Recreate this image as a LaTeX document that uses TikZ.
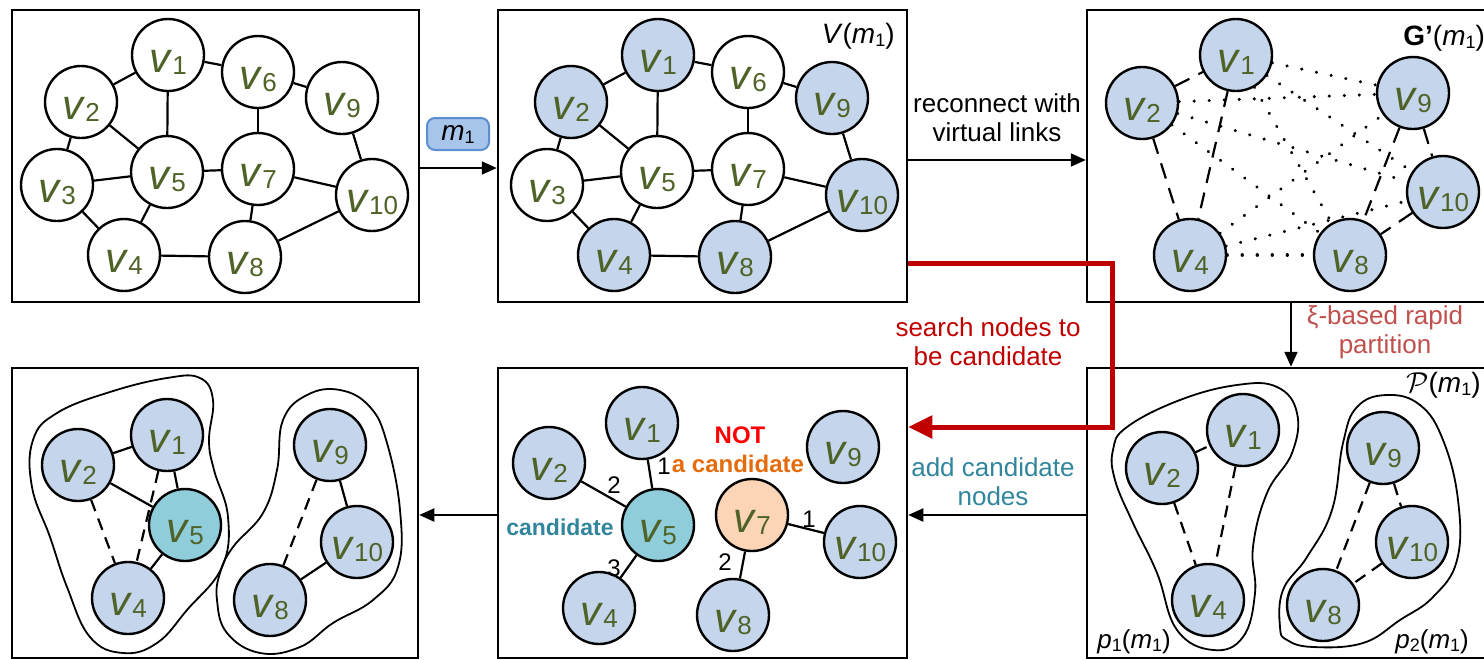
\documentclass[tikz,border=0pt]{standalone}
\usepackage{fontspec}
\setmainfont{Liberation Sans}
\usetikzlibrary{arrows.meta}

\definecolor{vtext}{HTML}{4F6228}
\definecolor{vfill}{HTML}{C5D6EC}
\definecolor{candfill}{HTML}{8ECDD9}
\definecolor{notfill}{HTML}{FBD5B5}
\definecolor{searchred}{HTML}{C00000}
\definecolor{partred}{HTML}{C0504D}
\definecolor{candteal}{HTML}{31859C}
\definecolor{candorange}{HTML}{E46C0A}
\definecolor{mfill}{HTML}{A7C5EB}
\definecolor{mdraw}{HTML}{5B8FD0}

% vertex label v_i and the message index m_1
\newcommand{\vlab}[1]{\textit{v}\raisebox{-1pt}{\fontsize{13}{13}\selectfont #1}}
\newcommand{\mone}{\textit{m}\raisebox{-1.5pt}{\fontsize{9}{9}\selectfont 1}}
\newcommand{\pidx}[1]{\textit{p}\raisebox{-1.5pt}{\fontsize{9}{9}\selectfont #1}}

\tikzset{
  vert/.style={circle, draw=black, line width=1.2pt, minimum size=36pt, inner sep=0pt,
    fill=white, text=vtext, font=\fontsize{21}{21}\selectfont, text height=17pt, text depth=0pt},
  vb/.style={vert, fill=vfill},
  vc/.style={vert, fill=candfill},
  vo/.style={vert, fill=notfill},
  panel/.style={draw=black, line width=1.25pt, inner sep=0pt},
  link/.style={line width=1.1pt},
  dlink/.style={link, dash pattern=on 8pt off 5pt},
  slink/.style={link, dash pattern=on 6pt off 4pt},
  vlink/.style={line width=1.7pt, line cap=round, dash pattern=on 0.01pt off 7.5pt},
  blob/.style={line width=0.9pt},
  arr/.style={line width=1pt, -{Triangle[length=7.5pt,width=6.5pt]}},
  redarr/.style={line width=2.5pt, draw=searchred, -{Triangle[length=12pt,width=11pt]}},
  lbl/.style={font=\fontsize{13}{14.5}\selectfont, align=center, inner sep=0pt},
  numlbl/.style={font=\fontsize{12}{12}\selectfont, inner sep=0pt},
  tag/.style={font=\fontsize{14}{14}\selectfont, inner sep=0pt},
}

\begin{document}
\begin{tikzpicture}[x=0.5pt,y=-0.5pt]
\useasboundingbox (0,0) rectangle (1484,659);

% ---------- panels ----------
\node[panel, minimum width=203.5pt, minimum height=146pt] (P1) at (215.5,156) {};
\node[panel, minimum width=204.5pt, minimum height=146pt] (P2) at (702.5,156) {};
\node[panel, minimum width=206.5pt, minimum height=146pt] (P3) at (1293.5,156) {};
\node[panel, minimum width=203pt, minimum height=145pt] (P4) at (215,513) {};
\node[panel, minimum width=204.5pt, minimum height=145pt] (P5) at (702.5,513) {};
\node[panel, minimum width=206.5pt, minimum height=145pt] (P6) at (1293.5,513) {};

% ---------- panel 1: the original graph ----------
\node[vert] (a1) at (168,55) {\vlab{1}};
\node[vert] (a2) at (81,102) {\vlab{2}};
\node[vert] (a3) at (57,185) {\vlab{3}};
\node[vert] (a4) at (124,255) {\vlab{4}};
\node[vert] (a5) at (167,172) {\vlab{5}};
\node[vert] (a6) at (258,72) {\vlab{6}};
\node[vert] (a7) at (258,169) {\vlab{7}};
\node[vert] (a8) at (245,257) {\vlab{8}};
\node[vert] (a9) at (342,98) {\vlab{9}};
\node[vert] (a10) at (372,195) {\vlab{10}};
\foreach \s/\t in {1/2,1/5,1/6,6/9,6/7,2/5,2/3,3/5,3/4,4/5,5/7,7/10,7/8,9/10,8/10,4/8}
  \draw[link] (a\s) -- (a\t);

% ---------- panel 2: vertices touched by m1 ----------
\node[vb]   (b1) at (658,55) {\vlab{1}};
\node[vb]   (b2) at (571,102) {\vlab{2}};
\node[vert] (b3) at (547,185) {\vlab{3}};
\node[vb]   (b4) at (614,255) {\vlab{4}};
\node[vert] (b5) at (657,172) {\vlab{5}};
\node[vert] (b6) at (748,72) {\vlab{6}};
\node[vert] (b7) at (748,169) {\vlab{7}};
\node[vb]   (b8) at (735,257) {\vlab{8}};
\node[vb]   (b9) at (832,98) {\vlab{9}};
\node[vb]   (b10) at (862,195) {\vlab{10}};
\foreach \s/\t in {1/2,1/5,1/6,6/9,6/7,2/5,2/3,3/5,3/4,4/5,5/7,7/10,7/8,9/10,8/10,4/8}
  \draw[link] (b\s) -- (b\t);
\node[tag, anchor=base east] (vm) at (895,43) {\textit{V}(\mone)};

% ---------- panel 3: virtual graph G'(m1) ----------
\node[vb] (c1) at (1236,55) {\vlab{1}};
\node[vb] (c2) at (1142,103) {\vlab{2}};
\node[vb] (c4) at (1190,255) {\vlab{4}};
\node[vb] (c9) at (1413,93) {\vlab{9}};
\node[vb] (c10) at (1443,192) {\vlab{10}};
\node[vb] (c8) at (1350,255) {\vlab{8}};
\foreach \s in {1,2,4}
  \foreach \t in {9,10,8}
    \draw[vlink] (c\s) -- (c\t);
\foreach \s/\t in {2/1,2/4,1/4,9/8,9/10,10/8}
  \draw[dlink] (c\s) -- (c\t);
\node[tag, anchor=base west] (gm) at (1403,45) {\textbf{G'}(\mone)};

% ---------- panel 6: rapid partition P(m1) ----------
\draw[blob] plot[smooth cycle, tension=0.7] coordinates {(1113,450) (1127,427) (1180,400) (1237,385) (1277,387) (1297,413) (1292,453) (1267,493) (1253,547) (1255,593) (1243,637) (1213,650) (1177,630) (1157,573) (1133,523) (1115,480)};
\draw[blob] plot[smooth cycle, tension=0.7] coordinates {(1280,627) (1283,590) (1307,557) (1332,510) (1343,443) (1357,407) (1387,395) (1420,405) (1443,440) (1458,500) (1457,560) (1433,597) (1400,620) (1363,643) (1313,647) (1287,640)};
\node[vb] (f1) at (1243,430) {\vlab{1}};
\node[vb] (f2) at (1162,468) {\vlab{2}};
\node[vb] (f4) at (1208,600) {\vlab{4}};
\node[vb] (f9) at (1383,448) {\vlab{9}};
\node[vb] (f10) at (1412,542) {\vlab{10}};
\node[vb] (f8) at (1323,605) {\vlab{8}};
\foreach \s/\t in {2/1,2/4,1/4,9/8,9/10,10/8}
  \draw[slink] (f\s) -- (f\t);
\node[tag, anchor=base east] (pm) at (1481,392) {$\mathcal{P}$(\mone)};
\node[numlbl, anchor=base west, font=\fontsize{13}{13}\selectfont] (p1) at (1097,648) {\pidx{1}(\mone)};
\node[numlbl, anchor=base west, font=\fontsize{13}{13}\selectfont] (p2) at (1395,648) {\pidx{2}(\mone)};

% ---------- panel 5: candidate search ----------
\node[vb] (e1) at (642,423) {\vlab{1}};
\node[vb] (e2) at (549,463) {\vlab{2}};
\node[vc] (e5) at (658,525) {\vlab{5}};
\node[vb] (e4) at (599,608) {\vlab{4}};
\node[vo] (e7) at (752,515) {\vlab{7}};
\node[vb] (e9) at (843,447) {\vlab{9}};
\node[vb] (e10) at (860,542) {\vlab{10}};
\node[vb] (e8) at (733,615) {\vlab{8}};
\foreach \s/\t in {1/5,2/5,4/5,7/10,7/8}
  \draw[link] (e\s) -- (e\t);
\node[numlbl] (n15) at (664,466) {1};
\node[numlbl] (n25) at (614,485) {2};
\node[numlbl] (n45) at (614,568) {3};
\node[numlbl] (n710) at (809,519) {1};
\node[numlbl] (n78) at (725,562) {2};
\node[inner sep=0pt, anchor=base, text=red, font=\fontsize{12}{12}\selectfont\bfseries] (nt) at (740,443) {NOT};
\node[inner sep=0pt, anchor=base, text=candorange, font=\fontsize{12}{12}\selectfont\bfseries] (ac) at (738,472) {a candidate};
\node[inner sep=0pt, anchor=base, text=candteal, font=\fontsize{11.5}{12}\selectfont\bfseries] (cd) at (560,535) {candidate};

% ---------- panel 4: final partition ----------
\draw[blob] plot[smooth cycle, tension=0.7] coordinates {(33,440) (57,413) (110,392) (167,378) (200,378) (213,400) (209,440) (214,470) (228,517) (222,567) (187,610) (157,643) (123,653) (90,637) (67,587) (50,537) (32,487)};
\draw[blob] plot[smooth cycle, tension=0.7] coordinates {(220,573) (233,547) (263,513) (277,470) (283,420) (307,395) (340,390) (370,407) (387,443) (400,510) (398,567) (373,600) (333,623) (300,647) (260,653) (227,633) (217,600)};
\node[vb] (d1) at (167,435) {\vlab{1}};
\node[vb] (d2) at (78,465) {\vlab{2}};
\node[vc] (d5) at (185,525) {\vlab{5}};
\node[vb] (d4) at (128,598) {\vlab{4}};
\node[vb] (d9) at (330,445) {\vlab{9}};
\node[vb] (d10) at (357,542) {\vlab{10}};
\node[vb] (d8) at (270,600) {\vlab{8}};
\foreach \s/\t in {2/1,1/5,2/5,5/4,9/10,10/8}
  \draw[link] (d\s) -- (d\t);
\foreach \s/\t in {2/4,1/4,9/8}
  \draw[slink] (d\s) -- (d\t);

% ---------- connectors between panels ----------
\coordinate (y12) at (0,168);
\coordinate (y23) at (0,160);
\coordinate (x36) at (1291,0);
\coordinate (ybot) at (0,515);
\coordinate (rtop) at (1112,263);
\coordinate (rbot) at (1112,427);

\node[rounded corners=4pt, fill=mfill, draw=mdraw, line width=1pt, minimum width=31pt,
      minimum height=16pt, inner sep=0pt, font=\fontsize{14}{14}\selectfont] (mb) at (458,134) {\mone};
\draw[arr] (P1.east |- y12) -- (P2.west |- y12);

\draw[arr] (P2.east |- y23) -- (P3.west |- y23);
\node[lbl] (rc) at (997,118) {reconnect with\\virtual links};

\draw[arr] (P3.south -| x36) -- (P6.north -| x36);
\node[lbl, text=partred] (xi) at (1385,332) {ξ-based rapid\\partition};

\draw[arr] (P6.west |- ybot) -- (P5.east |- ybot);
\node[lbl, text=candteal] (ad) at (993,482) {add candidate\\nodes};

\draw[arr] (P5.west |- ybot) -- (P4.east |- ybot);

\draw[redarr] (P2.east |- rtop) -- (rtop) -- (rbot) -- (P5.east |- rbot);
\node[lbl, text=searchred] (sn) at (988,342) {search nodes to\\be candidate};

\end{tikzpicture}
\end{document}
